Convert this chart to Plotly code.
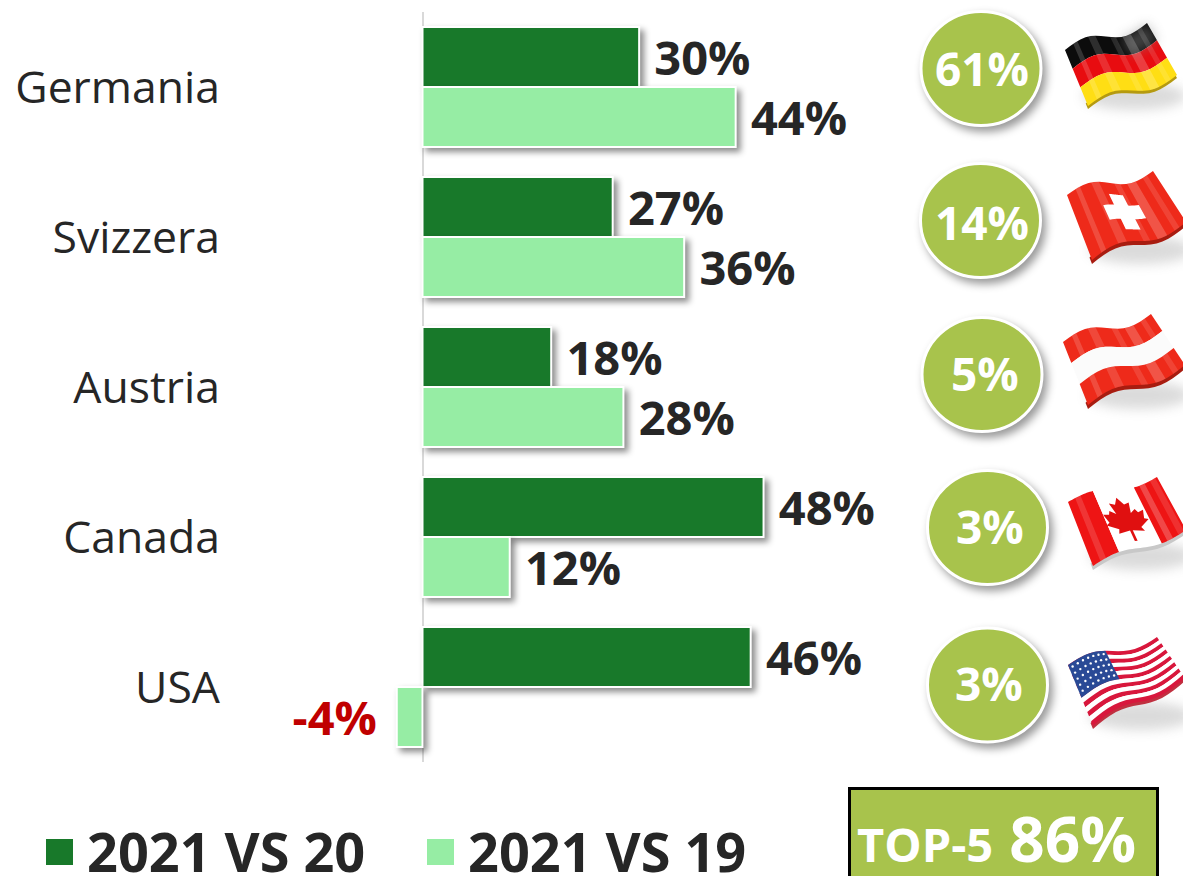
import math
import plotly.graph_objects as go

# ---------- data ----------
countries = ["Germania", "Svizzera", "Austria", "Canada", "USA"]
vs_20 = [30.3, 26.6, 18.0, 47.7, 45.9]
vs_19 = [43.8, 36.6, 28.1, 12.2, -3.6]
labels_20 = ["30%", "27%", "18%", "48%", "46%"]
labels_19 = ["44%", "36%", "28%", "12%", "-4%"]
shares = ["61%", "14%", "5%", "3%", "3%"]
series_names = ["2021 VS 20", "2021 VS 19"]
total_label = "TOP-5"
total_value = "86%"

# ---------- style ----------
W, H = 1183, 876
DARK = "#18792A"
LIGHT = "#96EDA4"
OLIVE = "#A8C34C"
INK = "#262626"
RED = "#C00000"
FONT = "Open Sans"
ZERO_PX = 422.5
PX_PER_UNIT = 7.15
PLOT_LEFT = 232


def px(x):
    return x / W


def py(y):
    return 1 - y / H


shapes = []
annotations = []


def path_shape(points, color, opacity=1.0):
    d = "M" + "L".join(f"{px(x):.5f},{py(y):.5f}" for x, y in points) + "Z"
    shapes.append(dict(type="path", xref="paper", yref="paper", path=d,
                       fillcolor=color, opacity=opacity, line=dict(width=0), layer="above"))


def ellipse(cx, cy, rx, ry, color, opacity=1.0, line=None):
    shapes.append(dict(type="circle", xref="paper", yref="paper",
                       x0=px(cx - rx), x1=px(cx + rx), y0=py(cy + ry), y1=py(cy - ry),
                       fillcolor=color, opacity=opacity,
                       line=line or dict(width=0), layer="above"))


class Flag:
    def __init__(self, tl, tr, br, bl, amp=6):
        self.c = (tl, tr, br, bl)
        self.amp = amp

    def pt(self, u, v, dy=0):
        tl, tr, br, bl = self.c
        xt, yt = tl[0] + (tr[0] - tl[0]) * u, tl[1] + (tr[1] - tl[1]) * u
        xb, yb = bl[0] + (br[0] - bl[0]) * u, bl[1] + (br[1] - bl[1]) * u
        x = xt + (xb - xt) * v
        y = yt + (yb - yt) * v
        return x, y - self.amp * math.sin(2 * math.pi * u) + dy

    def patch(self, u0, u1, v0, v1, color, opacity=1.0, dy=0):
        n = 16
        us = [u0 + (u1 - u0) * i / n for i in range(n + 1)]
        pts = [self.pt(u, v0, dy) for u in us] + [self.pt(u, v1, dy) for u in reversed(us)]
        path_shape(pts, color, opacity)

    def gloss(self, v0=0.0, v1=1.0):
        for s, w, o in ((0.1, 0.05, 0.16), (0.28, 0.09, 0.14), (0.55, 0.07, 0.12),
                        (0.7, 0.1, 0.2), (0.88, 0.05, 0.12)):
            self.patch(s, s + w, v0, v1, "#FFFFFF", o)

    def shadow(self):
        tl, tr, br, bl = self.c
        cx = (bl[0] + br[0]) / 2 + 2
        cy = max(bl[1], br[1]) - 10
        ellipse(cx, cy, 52, 14, "#808080", 0.28)


# German flag
f = Flag((1065, 50), (1147, 23), (1177, 75), (1088, 106))
f.shadow()
f.patch(0, 1, 0.9, 1, "#B59A10", dy=3)
f.patch(0, 1, 0, 1 / 3, "#0C0C0C")
f.patch(0, 1, 1 / 3, 2 / 3, "#E80C10")
f.patch(0, 1, 2 / 3, 1, "#FFDE14")
f.patch(0.68, 1, 0, 1 / 3, "#808080", 0.45)
f.gloss()

# Swiss flag
f = Flag((1067, 195), (1153, 171), (1186, 222), (1092, 260))
f.shadow()
f.patch(0, 1, 0.9, 1, "#A81C10", dy=4)
f.patch(0, 1, 0, 1, "#EE2A1A")
f.gloss()
f.patch(0.42, 0.58, 0.2, 0.8, "#FFFFFF")
f.patch(0.3, 0.7, 0.38, 0.62, "#FFFFFF")

# Austrian flag
f = Flag((1063, 342), (1151, 314), (1185, 365), (1088, 405))
f.shadow()
f.patch(0, 1, 0.9, 1, "#A81C10", dy=4)
f.patch(0, 1, 0, 1 / 3, "#EE2A1A")
f.patch(0, 1, 1 / 3, 2 / 3, "#FBFBFB")
f.patch(0, 1, 2 / 3, 1, "#EE2A1A")
f.gloss(0, 1 / 3)
f.gloss(2 / 3, 1)

# Canadian flag
f = Flag((1068, 502), (1157, 477), (1186, 530), (1093, 566), amp=4)
f.shadow()
f.patch(0, 1, 0.9, 1, "#C8C8C8", dy=4)
f.patch(0, 0.28, 0, 1, "#EE1414")
f.patch(0.28, 0.74, 0, 1, "#FFFFFF")
f.patch(0.74, 1, 0, 1, "#EE1414")
for s, o in ((0.08, 0.14), (0.8, 0.22), (0.92, 0.12)):
    f.patch(s, s + 0.06, 0, 1, "#FFFFFF", o)
leaf = [(0.5, 0.14), (0.55, 0.26), (0.61, 0.23), (0.58, 0.41), (0.64, 0.35), (0.66, 0.41),
        (0.72, 0.39), (0.69, 0.53), (0.73, 0.56), (0.62, 0.66), (0.64, 0.73), (0.515, 0.7),
        (0.515, 0.88), (0.485, 0.88), (0.485, 0.7), (0.36, 0.73), (0.38, 0.66), (0.27, 0.56),
        (0.31, 0.53), (0.28, 0.39), (0.34, 0.41), (0.36, 0.35), (0.42, 0.41), (0.39, 0.23),
        (0.45, 0.26)]
path_shape([f.pt(u, v) for u, v in leaf], "#E01010")

# US flag
f = Flag((1068, 665), (1157, 637), (1185, 678), (1093, 726), amp=5)
f.shadow()
f.patch(0, 1, 0.9, 1, "#C03040", dy=3)
for i in range(13):
    f.patch(0, 1, i / 13, (i + 1) / 13, "#D8173C" if i % 2 == 0 else "#FFFFFF")
f.patch(0, 0.42, 0, 7 / 13, "#2A4A96")
for r in range(5):
    for c in range(7):
        x, y = f.pt(0.035 + c * 0.058, 0.06 + r * 0.1)
        ellipse(x, y, 1.2, 1.2, "#FFFFFF")

# Share circles
circles = [(981, 68.5), (980.5, 220.5), (982, 374.5), (987.5, 527.5), (987.5, 685)]
text_nudge = [(1, -1), (1, 1), (2.5, -2), (2, -2), (1, -2)]
for (cx, cy), (nx, ny), s in zip(circles, text_nudge, shares):
    ellipse(cx, cy, 60, 57, OLIVE, line=dict(color="#FFFFFF", width=3))
    annotations.append(dict(xref="paper", yref="paper", x=px(cx + nx), y=py(cy + ny), text=f"<b>{s}</b>",
                            showarrow=False, xanchor="center", yanchor="middle",
                            font=dict(family=FONT, size=46, color="#FFFFFF")))

# Legend, drawn large as in the reference
legend_items = [(46, 85, DARK), (427, 466, LIGHT)]
for (sx, tx, col), name in zip(legend_items, series_names):
    shapes.append(dict(type="rect", xref="paper", yref="paper", x0=px(sx), x1=px(sx + 27),
                       y0=py(865), y1=py(839), fillcolor=col, line=dict(width=0), layer="above"))
    annotations.append(dict(xref="paper", yref="paper", x=px(tx), y=py(850.5), text=f"<b>{name}</b>",
                            showarrow=False, xanchor="left", yanchor="middle", height=50,
                            font=dict(family=FONT, size=54, color=INK)))

# TOP-5 box
shapes.append(dict(type="rect", xref="paper", yref="paper", x0=px(849.5), x1=px(1157.5),
                   y0=py(884), y1=py(788.5), fillcolor=OLIVE,
                   line=dict(color="#000000", width=3), layer="above"))
annotations.append(dict(xref="paper", yref="paper", x=px(996), y=py(838),
                        text=f"<b><span style='font-size:47px'>{total_label}</span> {total_value}</b>",
                        showarrow=False, xanchor="center", yanchor="middle", height=74,
                        font=dict(family=FONT, size=62, color="#FFFFFF")))

# ---------- chart ----------
NB = "\u00a0"


def bar_text(labels, values):
    return [(l + NB + "\u200a") if v < 0 else (NB + l) for l, v in zip(labels, values)]


def text_colors(values):
    return [RED if v < 0 else INK for v in values]


fig = go.Figure()
for name, values, labels, color in (
    (series_names[0], vs_20, labels_20, DARK),
    (series_names[1], vs_19, labels_19, LIGHT),
):
    fig.add_trace(go.Bar(
        name=name, y=countries, x=values, orientation="h",
        marker=dict(color=color, line=dict(color="#FFFFFF", width=2)),
        text=bar_text(labels, values), textposition="outside", textangle=0,
        cliponaxis=False, constraintext="none",
        textfont=dict(family=FONT, size=47, color=text_colors(values), weight=700),
        showlegend=False,
    ))

fig.update_layout(
    width=W, height=H, margin=dict(l=0, r=0, t=0, b=0, pad=0),
    paper_bgcolor="#FFFFFF", plot_bgcolor="#FFFFFF",
    barmode="group", bargap=0.2, bargroupgap=0,
    showlegend=False, shapes=shapes, annotations=annotations,
    xaxis=dict(domain=[px(PLOT_LEFT), 1],
               range=[(PLOT_LEFT - ZERO_PX) / PX_PER_UNIT, (W - ZERO_PX) / PX_PER_UNIT],
               showgrid=False, showticklabels=False, ticks="", showline=False,
               zeroline=True, zerolinecolor="#D9D9D9", zerolinewidth=2),
    yaxis=dict(domain=[py(762), py(12)], range=[4.5, -0.5], type="category",
               showgrid=False, zeroline=False, showline=False, ticks="",
               ticklabelstandoff=11,
               tickfont=dict(family=FONT, size=44.5, color=INK)),
)

post = """
document.body.style.margin = '0';
document.body.style.overflow = 'hidden';
var g = document.querySelector('.js-plotly-plot');
g.querySelectorAll('.trace.bars .point path').forEach(function (p) {
  p.style.filter = 'drop-shadow(4px 4px 3px rgba(0,0,0,0.45))';
});
g.querySelectorAll('.shapelayer path').forEach(function (p) {
  if (p.style.fill === 'rgb(168, 195, 76)' && p.style.stroke === 'rgb(255, 255, 255)') {
    p.style.filter = 'drop-shadow(4px 5px 4px rgba(0,0,0,0.4))';
  }
  if (p.style.fill === 'rgb(128, 128, 128)') {
    p.style.filter = 'blur(6px)';
  }
});
"""
fig.write_html("out.html", post_script=post, config=dict(displayModeBar=False))
